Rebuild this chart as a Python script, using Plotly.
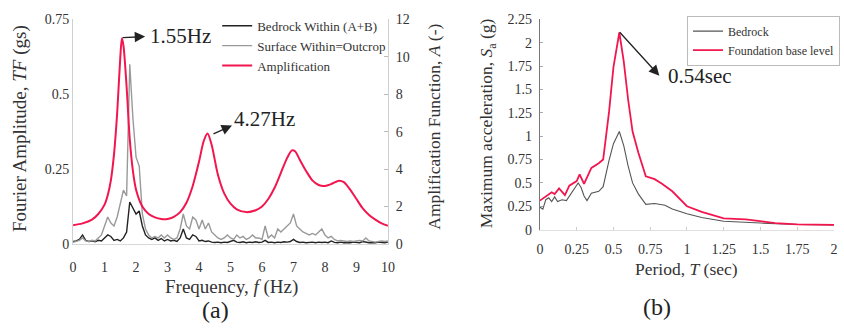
import plotly.graph_objects as go

# ---------------- Panel (a) data ----------------
freq = [round(i * 0.1, 1) for i in range(101)]
surface_within = [
    0.005, 0.008, 0.012, 0.020, 0.010, 0.008, 0.012, 0.010, 0.020, 0.030,
    0.060, 0.090, 0.070, 0.060, 0.090, 0.140, 0.180, 0.160, 0.600, 0.420,
    0.290, 0.260, 0.100, 0.050, 0.030, 0.020, 0.025, 0.020, 0.030, 0.020,
    0.030, 0.020, 0.015, 0.020, 0.050, 0.100, 0.060, 0.050, 0.090, 0.080,
    0.050, 0.080, 0.050, 0.070, 0.040, 0.030, 0.020, 0.015, 0.020, 0.030,
    0.020, 0.015, 0.030, 0.020, 0.025, 0.015, 0.020, 0.030, 0.020, 0.020,
    0.015, 0.060, 0.020, 0.030, 0.020, 0.050, 0.040, 0.050, 0.060, 0.070,
    0.100, 0.060, 0.050, 0.040, 0.035, 0.030, 0.035, 0.030, 0.040, 0.050,
    0.030, 0.020, 0.025, 0.015, 0.010, 0.012, 0.010, 0.008, 0.010, 0.008,
    0.010, 0.012, 0.010, 0.020, 0.010, 0.008, 0.006, 0.008, 0.010, 0.008,
    0.010,
]
bedrock_within = [
    0.008, 0.010, 0.015, 0.030, 0.012, 0.008, 0.010, 0.007, 0.012, 0.010,
    0.020, 0.030, 0.025, 0.012, 0.015, 0.010, 0.020, 0.040, 0.140, 0.120,
    0.100, 0.110, 0.060, 0.030, 0.020, 0.015, 0.020, 0.012, 0.018, 0.010,
    0.015, 0.010, 0.012, 0.008, 0.020, 0.050, 0.020, 0.015, 0.030, 0.025,
    0.010, 0.012, 0.008, 0.010, 0.006, 0.005, 0.006, 0.004, 0.006, 0.005,
    0.008, 0.012, 0.006, 0.005, 0.007, 0.004, 0.006, 0.005, 0.007, 0.005,
    0.006, 0.012, 0.005, 0.006, 0.004, 0.006, 0.005, 0.007, 0.006, 0.008,
    0.015, 0.008, 0.005, 0.006, 0.004, 0.005, 0.006, 0.004, 0.006, 0.005,
    0.006, 0.004, 0.010, 0.005, 0.004, 0.006, 0.004, 0.005, 0.004, 0.006,
    0.005, 0.004, 0.008, 0.005, 0.004, 0.005, 0.004, 0.006, 0.005, 0.004,
    0.006,
]
amp_freq = [0.0, 0.3, 0.6, 0.8, 1.0, 1.1, 1.2, 1.3, 1.4, 1.5, 1.55, 1.6, 1.7, 1.8, 1.9,
            2.0, 2.2, 2.4, 2.6, 2.8, 3.0, 3.2, 3.4, 3.6, 3.8, 4.0, 4.15, 4.27, 4.4,
            4.6, 4.8, 5.0, 5.2, 5.5, 5.8, 6.0, 6.2, 6.4, 6.6, 6.8, 6.95, 7.05, 7.2,
            7.4, 7.6, 7.8, 8.0, 8.2, 8.45, 8.6, 8.8, 9.0, 9.2, 9.4, 9.6, 9.8, 10.0]
amplification = [1.0, 1.1, 1.3, 1.6, 2.1, 2.6, 3.4, 4.8, 7.0, 10.0, 11.0, 10.6, 8.4, 5.6, 3.9,
                 2.9, 2.0, 1.6, 1.42, 1.33, 1.33, 1.45, 1.7, 2.2, 3.1, 4.4, 5.5, 5.9, 5.3,
                 3.7, 2.7, 2.15, 1.85, 1.7, 1.8, 2.0, 2.4, 3.0, 3.8, 4.6, 5.0, 4.95, 4.5,
                 3.9, 3.4, 3.15, 3.1, 3.2, 3.38, 3.3, 2.9, 2.4, 1.9, 1.55, 1.3, 1.1, 0.97]

# ---------------- Panel (b) data ----------------
period_fb = [0.0, 0.05, 0.08, 0.10, 0.13, 0.17, 0.20, 0.25, 0.27, 0.30, 0.35, 0.40, 0.43,
             0.47, 0.50, 0.54, 0.57, 0.60, 0.63, 0.67, 0.72, 0.78, 0.83, 0.90, 1.00,
             1.10, 1.25, 1.40, 1.50, 1.60, 1.75, 2.00]
foundation = [0.31, 0.37, 0.40, 0.38, 0.44, 0.37, 0.47, 0.52, 0.59, 0.49, 0.66, 0.71, 0.75,
              1.26, 1.74, 2.11, 1.80, 1.39, 1.05, 0.82, 0.57, 0.54, 0.49, 0.41, 0.25,
              0.19, 0.12, 0.11, 0.09, 0.07, 0.055, 0.05]
period_br = [0.0, 0.02, 0.04, 0.06, 0.08, 0.10, 0.12, 0.15, 0.18, 0.20, 0.23, 0.26, 0.28,
             0.30, 0.32, 0.35, 0.40, 0.43, 0.47, 0.50, 0.54, 0.57, 0.60, 0.63, 0.67,
             0.72, 0.78, 0.85, 0.90, 1.00, 1.10, 1.25, 1.50, 1.75, 2.00]
bedrock = [0.24, 0.22, 0.32, 0.34, 0.30, 0.35, 0.30, 0.32, 0.31, 0.36, 0.42, 0.50, 0.45,
           0.36, 0.31, 0.39, 0.41, 0.46, 0.74, 0.92, 1.05, 0.90, 0.68, 0.50, 0.38,
           0.27, 0.28, 0.26, 0.22, 0.17, 0.13, 0.09, 0.07, 0.055, 0.05]

ticks_a_y = [0, 0.25, 0.5, 0.75]
ticks_a_y_text = ["0", "0.25", "0.5", "0.75"]
ticks_a_y2 = [0, 2, 4, 6, 8, 10, 12]
ticks_a_x = list(range(11))
ticks_b_x = [0, 0.25, 0.5, 0.75, 1, 1.25, 1.5, 1.75, 2]
ticks_b_x_text = ["0", "0.25", "0.5", "0.75", "1", "1.25", "1.5", "1.75", "2"]
ticks_b_y = [0, 0.25, 0.5, 0.75, 1, 1.25, 1.5, 1.75, 2, 2.25]
ticks_b_y_text = ["0", "0.25", "0.5", "0.75", "1", "1.25", "1.5", "1.75", "2", "2.25"]

SERIF = "Liberation Serif"
RED = "#f2164f"
W, H = 844, 336

fig = go.Figure()
fig.add_trace(go.Scatter(x=freq, y=bedrock_within, mode="lines", name="Bedrock Within (A+B)",
                         line=dict(color="#222222", width=1.4), xaxis="x", yaxis="y",
                         legend="legend"))
fig.add_trace(go.Scatter(x=freq, y=surface_within, mode="lines", name="Surface Within=Outcrop",
                         line=dict(color="#999999", width=1.4), xaxis="x", yaxis="y",
                         legend="legend"))
fig.add_trace(go.Scatter(x=amp_freq, y=amplification, mode="lines", name="Amplification",
                         line=dict(color=RED, width=2, shape="spline", smoothing=0.8),
                         xaxis="x", yaxis="y2", legend="legend"))
fig.add_trace(go.Scatter(x=period_br, y=bedrock, mode="lines", name="Bedrock",
                         line=dict(color="#555555", width=1.1), xaxis="x3", yaxis="y3",
                         legend="legend2"))
fig.add_trace(go.Scatter(x=period_fb, y=foundation, mode="lines", name="Foundation base level",
                         line=dict(color=RED, width=1.8), xaxis="x3", yaxis="y3",
                         legend="legend2"))

def py(p):
    return 1 - p / H

def px(p):
    return p / W

tickfont = dict(family=SERIF, size=14, color="#333333")

fig.update_layout(
    width=W, height=H, margin=dict(l=0, r=0, t=0, b=0),
    paper_bgcolor="white", plot_bgcolor="white",
    font=dict(family=SERIF, color="#333333"),
    showlegend=True,
    xaxis=dict(domain=[px(70), px(389)], range=[0, 10], tickvals=ticks_a_x,
               showgrid=False, zeroline=False, showline=True, linecolor="#d8d8d8",
               ticks="", tickfont=tickfont, anchor="y", ticklabelstandoff=10),
    yaxis=dict(domain=[py(248), py(13)], range=[0, 0.75], tickvals=ticks_a_y,
               ticktext=ticks_a_y_text, showgrid=False, zeroline=False, showline=True,
               linecolor="#d0d0d0", ticks="", tickfont=tickfont, anchor="x"),
    yaxis2=dict(domain=[py(248), py(13)], range=[0, 12], tickvals=ticks_a_y2,
                overlaying="y", side="right", anchor="x", showgrid=False, zeroline=False,
                showline=True, linecolor="#d0d0d0", ticks="inside", ticklen=4,
                tickcolor="#bbbbbb", tickfont=tickfont, ticklabelstandoff=4),
    xaxis3=dict(domain=[px(543), px(841)], range=[0, 2], tickvals=ticks_b_x,
                ticktext=ticks_b_x_text, showgrid=False, zeroline=False, showline=True,
                linecolor="#e0e0e0", ticks="inside", ticklen=3, tickcolor="#cccccc",
                tickfont=tickfont, anchor="y3", ticklabelstandoff=7),
    yaxis3=dict(domain=[py(233), py(13)], range=[0, 2.25], tickvals=ticks_b_y,
                ticktext=ticks_b_y_text, showgrid=False, zeroline=False, showline=True,
                linecolor="#777777", ticks="inside", ticklen=3, tickcolor="#aaaaaa",
                tickfont=tickfont, anchor="x3", ticklabelstandoff=4),
    legend=dict(x=px(216), y=py(4), xanchor="left", yanchor="top",
                bgcolor="rgba(255,255,255,0)", borderwidth=0,
                font=dict(family=SERIF, size=13, color="#333333"),
                tracegroupgap=0, itemwidth=30),
    legend2=dict(x=px(692), y=py(9), xanchor="left", yanchor="top",
                 bgcolor="white", bordercolor="#bbbbbb", borderwidth=1,
                 font=dict(family=SERIF, size=12, color="#333333"),
                 tracegroupgap=0, itemwidth=30),
)

ann_font_a = dict(family=SERIF, size=19, color="#333333")
ann_font_b = dict(family=SERIF, size=17.5, color="#333333")
big_font = dict(family=SERIF, size=21, color="#222222")
label_font = dict(family=SERIF, size=24, color="#222222")
annotations = [
    dict(text="Fourier Amplitude, <i>TF</i> (gs)", x=px(17), y=py(127), textangle=-90,
         font=ann_font_a),
    dict(text="Amplification Function, <i>A</i> (-)", x=px(436), y=py(125), textangle=-90,
         font=ann_font_b),
    dict(text="Maximum acceleration, <i>S</i><sub>a</sub> (g)", x=px(490), y=py(122),
         textangle=-90, font=ann_font_b),
    dict(text="Frequency, <i>f</i> (Hz)", x=px(230), y=py(293), font=ann_font_a),
    dict(text="Period, <i>T</i> (sec)", x=px(692), y=py(274), font=ann_font_b),
    dict(text="(a)", x=px(214), y=py(317), font=label_font),
    dict(text="(b)", x=px(662), y=py(314), font=label_font),
    dict(text="1.55Hz", x=px(146), y=py(30), xanchor="left", font=big_font),
    dict(text="4.27Hz", x=px(231), y=py(117), xanchor="left", font=big_font),
    dict(text="0.54sec", x=px(671), y=py(72), xanchor="left", font=big_font),
]
for a in annotations:
    a.setdefault("xanchor", "center")
    a.update(xref="paper", yref="paper", showarrow=False, yanchor="middle")

arrows = [
    # (tail x, tail y, head x, head y) in page pixels
    (119, 32, 143, 31),
    (211, 133, 231, 124),
    (623, 27, 664, 72),
]
for (x0, y0, x1, y1) in arrows:
    annotations.append(dict(x=px(x1), y=py(y1), xref="paper", yref="paper",
                            ax=x0 - x1, ay=y0 - y1, axref="pixel", ayref="pixel",
                            text="", showarrow=True, arrowhead=2, arrowsize=1.6,
                            arrowwidth=1.3, arrowcolor="#222222", standoff=0,
                            startstandoff=0))
fig.update_layout(annotations=annotations)

fig.write_html("out.html")
